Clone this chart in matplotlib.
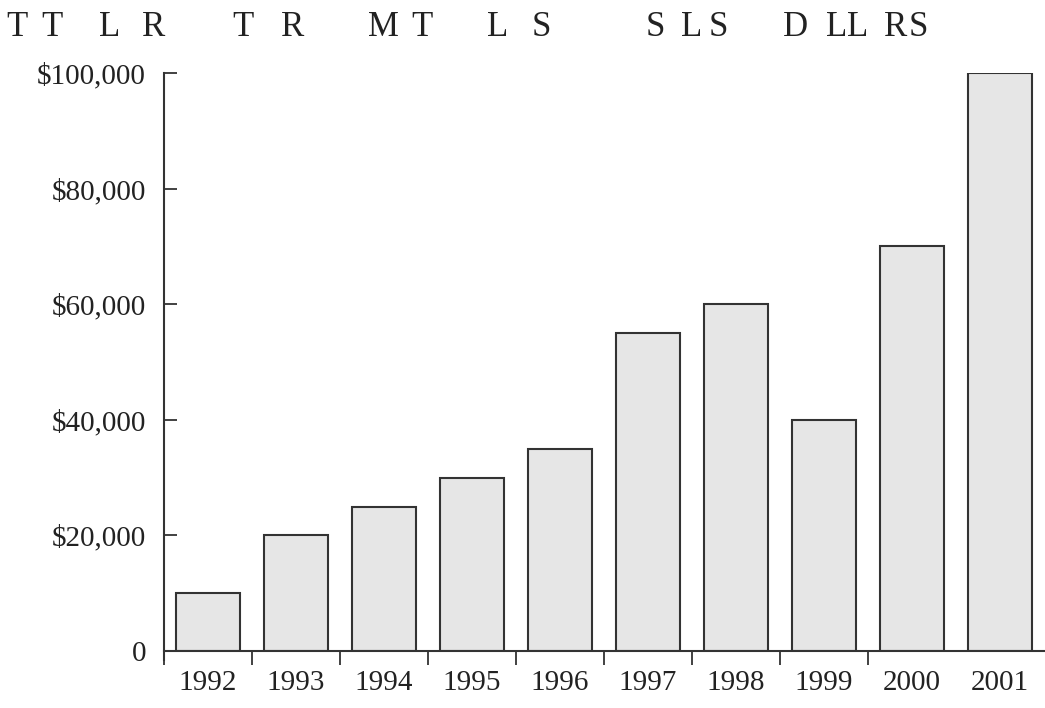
import matplotlib.pyplot as plt
import numpy as np

# yearly revenue, in dollars
years = ['1992', '1993', '1994', '1995', '1996', '1997', '1998', '1999', '2000', '2001']
revenue = [10000, 20000, 25000, 30000, 35000, 55000, 60000, 40000, 70000, 100000]
y_ticks = [0, 20000, 40000, 60000, 80000, 100000]
y_labels = ['0', '$20,000', '$40,000', '$60,000', '$80,000', '$100,000']

# heading letters and where each one starts (figure pixels)
title_letters = ['T', 'T', 'L', 'R', 'T', 'R', 'M', 'T', 'L', 'S',
                 'S', 'L', 'S', 'D', 'L', 'L', 'R', 'S']
title_x = [6, 41, 99, 142, 232, 281, 368, 411, 487, 532,
           646, 681, 709, 783, 826, 847, 884, 909]

plt.rcParams['font.family'] = ['Liberation Serif', 'DejaVu Serif']
ink = '#333333'

fig = plt.figure(figsize=(10.45, 7.08), dpi=100)
ax = fig.add_axes([164 / 1045, 1 - 651 / 708, 880 / 1045, (651 - 73) / 708])

x = np.arange(len(years))
ax.bar(x, revenue, width=0.727, color='#e6e6e6', edgecolor=ink, linewidth=1.5, zorder=2)

ax.set_xlim(-0.5, len(years) - 0.5)
ax.set_ylim(0, 100000)

ax.set_yticks(y_ticks)
ax.set_yticklabels(y_labels)
ax.tick_params(axis='y', direction='in', length=9, width=1.3, color=ink,
               pad=13, labelsize=21, labelcolor='#222222')

# year names centred under bars, tick marks between bars
ax.set_xticks(x)
ax.set_xticklabels(years)
ax.set_xticks(np.arange(len(years) - 1) - 0.5, minor=True)
ax.tick_params(axis='x', which='major', length=0, pad=14, labelsize=21, labelcolor='#222222')
ax.tick_params(axis='x', which='minor', direction='out', length=10, width=1.3, color=ink)

for side in ['top', 'right']:
    ax.spines[side].set_visible(False)
for side in ['left', 'bottom']:
    ax.spines[side].set_color(ink)
    ax.spines[side].set_linewidth(1.5)
ax.spines['left'].set_bounds(-1500, 100000)

for letter, px in zip(title_letters, title_x):
    fig.text(px / 1045, 1 - 36 / 708, letter, fontsize=25, color='#222222', va='baseline')

fig.savefig('out.png', dpi=100)
